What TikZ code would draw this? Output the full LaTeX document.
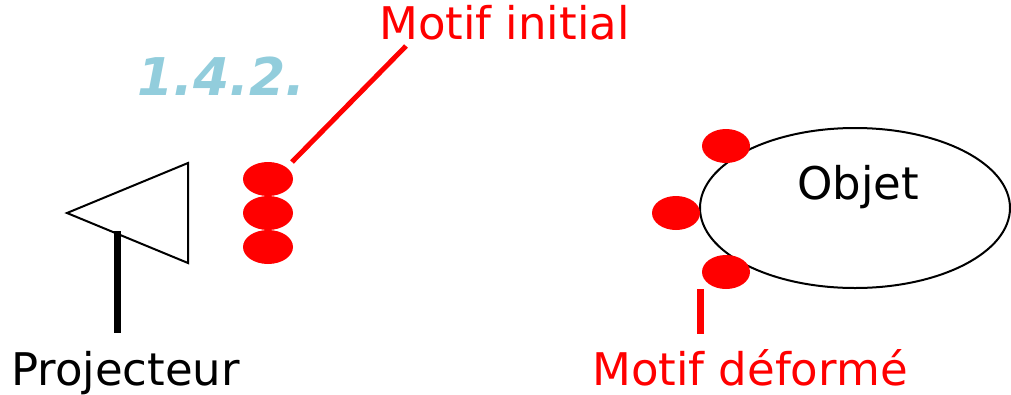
\documentclass[tikz,border=0pt]{standalone}
\usepackage{fontspec}
\setmainfont{DejaVu Sans}
\usetikzlibrary{shapes.geometric}
\definecolor{lblue}{HTML}{92CDDC}
\begin{document}
\begin{tikzpicture}[x=1pt,y=-1pt,
  lbl/.style={inner sep=0pt,anchor=base west,font=\fontsize{45}{50}\selectfont},
  dot/.style={fill=red,draw=none,ellipse,minimum width=50pt,minimum height=34pt,inner sep=0pt},
  redline/.style={draw=red,line width=5pt},
  blackline/.style={draw=black,line width=2pt}]
\useasboundingbox (0,0) rectangle (1011,394);
% title number
\node[inner sep=0pt,anchor=base west,text=lblue,font=\fontsize{52}{58}\selectfont\bfseries\itshape] (num) at (137,95) {1.4.2.};
% projector
\draw[blackline,line join=miter] (67,213) -- (188,163) -- (188,263) -- cycle;
\coordinate (standtop) at (117,231);
\coordinate (standbot) at (117,333);
\draw[line width=7pt] (standtop) -- (standbot);
\node[lbl] (proj) at (11,385) {Projecteur};
% initial pattern
\node[dot] (d1) at (268,179) {};
\node[dot] (d2) at (268,213) {};
\node[dot] (d3) at (268,247) {};
\node[lbl,text=red] (mi) at (379,39) {Motif initial};
\coordinate (mil) at (406,46);
\coordinate (d1e) at (292,162);
\draw[redline] (d1e) -- (mil);
% object
\node[draw=black,line width=2pt,ellipse,minimum width=310pt,minimum height=160pt,inner sep=0pt] (obj) at (855,208) {};
\node[inner sep=0pt,font=\fontsize{45}{50}\selectfont] (objt) at (858,187) {Objet};
\node[dot,minimum width=48pt] (t1) at (726,146) {};
\node[dot,minimum width=48pt] (t2) at (676,213) {};
\node[dot,minimum width=48pt] (t3) at (726,272) {};
\coordinate (mda) at (700,289);
\coordinate (mdb) at (700,334);
\draw[draw=red,line width=7pt] (mda) -- (mdb);
\node[lbl,text=red] (md) at (592,385) {Motif déformé};
\end{tikzpicture}
\end{document}
